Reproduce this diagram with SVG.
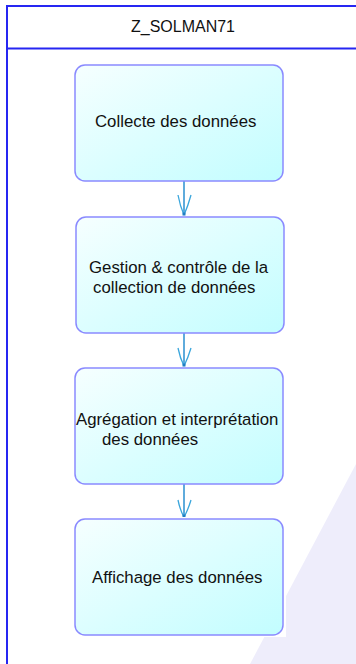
<svg xmlns="http://www.w3.org/2000/svg" width="356" height="664" viewBox="0 0 356 664">
  <style>
    .frame { fill: none; stroke: #2626f2; stroke-width: 2; }
    .box { fill: url(#boxFill); stroke: #8a8aff; stroke-width: 1.5; }
    .halo { fill: #ffffff; }
    .label { font-family: "Liberation Sans", Arial, sans-serif; font-size: 16.8px; fill: #111111; }
    .title { font-family: "Liberation Sans", Arial, sans-serif; font-size: 16.8px; fill: #111111; text-anchor: middle; }
    .flow { stroke: #2a8fd0; stroke-width: 1.5; fill: none; }
    .head { stroke: #3aa6dc; stroke-width: 1.3; fill: none; }
    .tip { fill: #1f7fc4; }
  </style>
  <defs>
    <linearGradient id="boxFill" x1="0" y1="0" x2="1" y2="1">
      <stop offset="0" stop-color="#f6ffff"/>
      <stop offset="1" stop-color="#c2fdff"/>
    </linearGradient>
  </defs>

  <!-- page background and faint backdrop wedge -->
  <rect x="0" y="0" width="356" height="664" fill="#ffffff"/>
  <polygon points="356,464 250,664 356,664" fill="#eeedfb"/>

  <!-- swimlane frame with header -->
  <g id="lane">
    <rect class="frame" x="7" y="6" width="360" height="670"/>
    <line class="frame" x1="7" y1="48.5" x2="356" y2="48.5"/>
    <text class="title" x="183" y="32" textLength="104" lengthAdjust="spacingAndGlyphs">Z_SOLMAN71</text>
  </g>

  <!-- flow connectors -->
  <g id="connectors">
    <g>
      <line class="flow" x1="184" y1="181" x2="184" y2="215"/>
      <path class="head" d="M178,195 Q180,206 184,215 M191,195 Q188,206 184,215"/>
      <rect class="tip" x="182.5" y="212.5" width="3" height="3"/>
    </g>
    <g>
      <line class="flow" x1="184" y1="333" x2="184" y2="366"/>
      <path class="head" d="M178,348 Q180,358 184,366 M191,348 Q188,358 184,366"/>
      <rect class="tip" x="182.5" y="363.5" width="3" height="3"/>
    </g>
    <g>
      <line class="flow" x1="184" y1="484" x2="184" y2="517"/>
      <path class="head" d="M178,500 Q180,510 184,517 M191,500 Q188,510 184,517"/>
      <rect class="tip" x="182.5" y="514.5" width="3" height="3"/>
    </g>
  </g>

  <!-- activity nodes -->
  <g id="collecte">
    <rect class="box" x="75" y="65" width="208" height="116" rx="10" ry="10"/>
    <text class="label" x="95" y="127">Collecte des données</text>
  </g>
  <g id="gestion">
    <rect class="box" x="76" y="217" width="208" height="116" rx="10" ry="10"/>
    <text class="label" x="89" y="273">Gestion &amp; contrôle de la</text>
    <text class="label" x="93" y="293">collection de données</text>
  </g>
  <g id="agregation">
    <rect class="box" x="75" y="368" width="208" height="116" rx="10" ry="10"/>
    <text class="label" x="76" y="425">Agrégation et interprétation</text>
    <text class="label" x="102" y="445">des données</text>
  </g>
  <g id="affichage">
    <rect class="halo" x="73" y="517" width="213" height="120"/>
    <rect class="box" x="75" y="519" width="208" height="116" rx="10" ry="10"/>
    <text class="label" x="92" y="583">Affichage des données</text>
  </g>
</svg>
